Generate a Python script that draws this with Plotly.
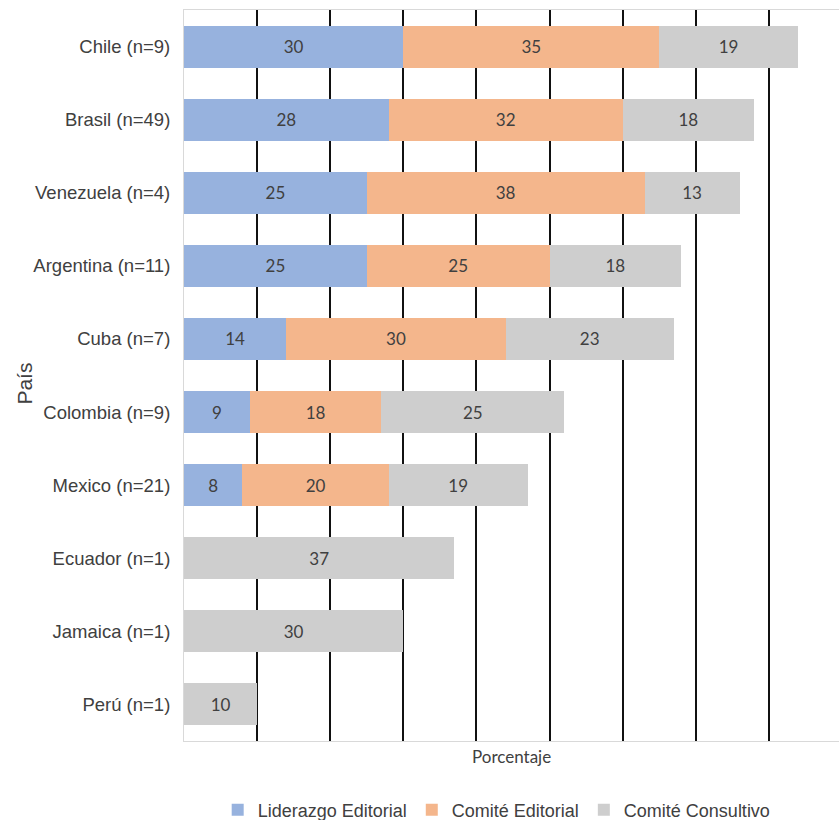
import plotly.graph_objects as go

paises = ["Chile (n=9)", "Brasil (n=49)", "Venezuela (n=4)", "Argentina (n=11)",
          "Cuba (n=7)", "Colombia (n=9)", "Mexico (n=21)", "Ecuador (n=1)",
          "Jamaica (n=1)", "Perú (n=1)"]
liderazgo = [30, 28, 25, 25, 14, 9, 8, None, None, None]
comite_editorial = [35, 32, 38, 25, 30, 18, 20, None, None, None]
comite_consultivo = [19, 18, 13, 18, 23, 25, 19, 37, 30, 10]

series = [
    ("Liderazgo Editorial", liderazgo, "#97B2DE"),
    ("Comité Editorial", comite_editorial, "#F4B68C"),
    ("Comité Consultivo", comite_consultivo, "#CECECE"),
]

fig = go.Figure()
for name, vals, color in series:
    fig.add_trace(go.Bar(
        y=paises, x=vals, name=name, orientation="h",
        marker=dict(color=color, line=dict(width=0)),
        texttemplate="%{x}", textposition="inside", insidetextanchor="middle",
        textangle=0,
        insidetextfont=dict(family="Lato", size=17, color="#404040"),
        hoverinfo="skip",
    ))

fig.update_layout(
    barmode="stack",
    bargap=0.425,
    width=839, height=820,
    margin=dict(l=184, r=0, t=10, b=79),
    paper_bgcolor="white", plot_bgcolor="white",
    font=dict(family="Liberation Sans, Arial", size=18, color="#404040"),
    showlegend=True,
    legend=dict(orientation="h", xref="container", yref="container",
                x=0.592, y=0.012, xanchor="center", yanchor="middle",
                font=dict(family="Liberation Sans, Arial", size=18, color="#404040"),
                traceorder="normal", itemwidth=30),
    xaxis=dict(range=[0, 89.6], tickmode="array",
               tickvals=[10, 20, 30, 40, 50, 60, 70, 80],
               showticklabels=False, showgrid=True, gridcolor="#111111",
               gridwidth=2, zeroline=False, showline=True,
               linecolor="#D9D9D9", linewidth=1, mirror=True, ticks=""),
    yaxis=dict(categoryorder="array", categoryarray=paises,
               autorange="reversed", showgrid=False, zeroline=False,
               showline=True, linecolor="#D9D9D9", linewidth=1,
               ticks="", ticklabelstandoff=9,
               tickfont=dict(family="Liberation Sans, Arial", size=18.5, color="#404040")),
    annotations=[
        dict(text="País", xref="paper", yref="paper", x=-0.2427, y=0.489,
             xanchor="center", yanchor="middle", textangle=-90, showarrow=False,
             font=dict(family="Liberation Sans, Arial", size=21, color="#404040")),
        dict(text="Porcentaje", xref="paper", yref="paper", x=0.5, y=-0.0212,
             xanchor="center", yanchor="middle", showarrow=False,
             font=dict(family="Lato", size=17, color="#404040")),
    ],
)

fig.write_html("out.html")
